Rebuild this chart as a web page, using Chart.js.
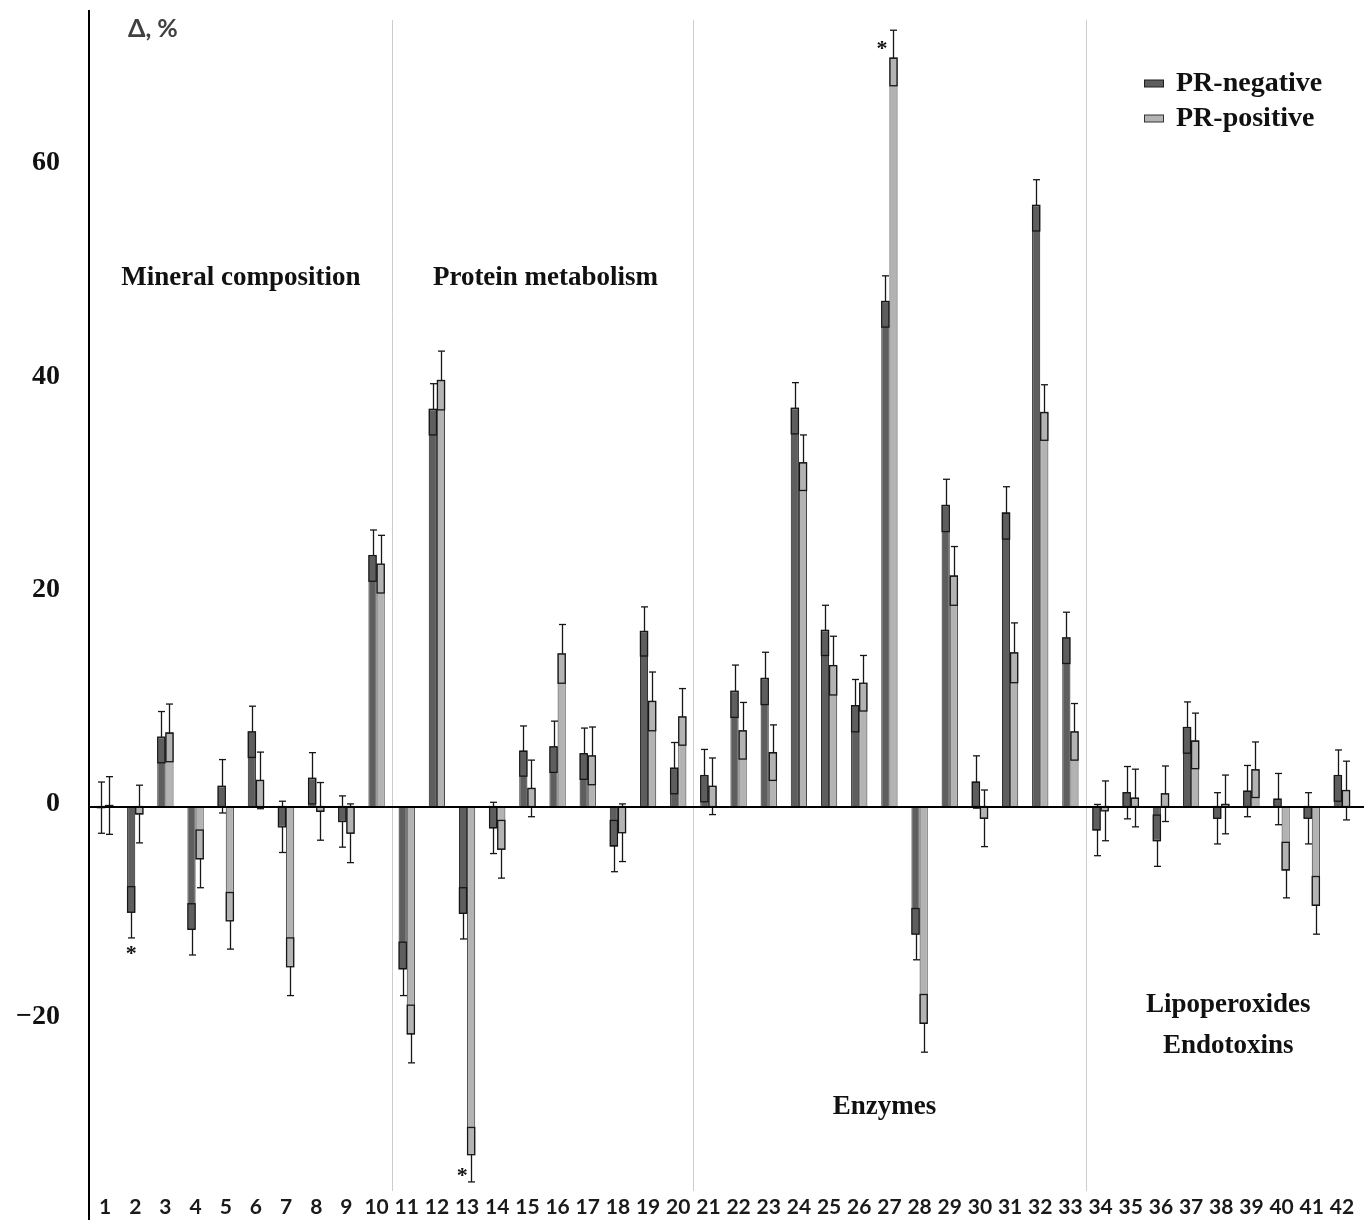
<!DOCTYPE html>
<html>
<head>
<meta charset="utf-8">
<script src="https://cdn.jsdelivr.net/npm/chart.js@4.4.0/dist/chart.umd.min.js"></script>
<style>
  html, body { margin: 0; padding: 0; background: #fff; }
  canvas { display: block; }
</style>
</head>
<body>
<canvas id="c" width="1364" height="1220"></canvas>
<script>
// Indicator numbers along the x axis
const categories = ['1','2','3','4','5','6','7','8','9','10',
  '11','12','13','14','15','16','17','18','19','20',
  '21','22','23','24','25','26','27','28','29','30','31','32','33',
  '34','35','36','37','38','39','40','41','42'];

// Change, % — PR-negative group
const prNegative = [-0.1, -9.9, 6.5, -11.5, 1.9, 7.0, -1.9, 2.65, -1.4, 23.5,
  -15.2, 37.2, -10.0, -2.0, 5.2, 5.6, 4.95, -3.7, 16.4, 3.6,
  2.9, 10.8, 12.0, 37.3, 16.5, 9.45, 47.3, -11.95, 28.2, 2.3, 27.5, 56.3, 15.8,
  -2.2, 1.3, -3.2, 7.4, -1.1, 1.45, 0.7, -1.1, 2.9];
const prNegativeErr = [2.4, 2.4, 2.4, 2.4, 2.5, 2.4, 2.4, 2.4, 2.4, 2.4,
  2.5, 2.4, 2.4, 2.4, 2.35, 2.4, 2.4, 2.4, 2.3, 2.4,
  2.45, 2.45, 2.45, 2.4, 2.35, 2.45, 2.4, 2.4, 2.45, 2.45, 2.45, 2.4, 2.4,
  2.4, 2.45, 2.4, 2.4, 2.4, 2.4, 2.4, 2.4, 2.4];

// Change, % — PR-positive group
const prPositive = [0.1, -0.7, 6.9, -4.9, -10.7, 2.45, -15.0, -0.45, -2.5, 22.7,
  -21.3, 39.9, -32.6, -4.0, 1.7, 14.3, 4.75, -2.45, 9.85, 8.4,
  1.9, 7.1, 5.05, 32.2, 13.2, 11.55, 70.1, -20.3, 21.6, -1.1, 14.4, 36.9, 7.0,
  -0.4, 0.8, 1.2, 6.15, 0.2, 3.45, -5.95, -9.25, 1.5];
const prPositiveErr = [2.7, 2.7, 2.7, 2.7, 2.65, 2.65, 2.7, 2.7, 2.75, 2.7,
  2.7, 2.75, 2.55, 2.7, 2.65, 2.75, 2.7, 2.7, 2.75, 2.65,
  2.65, 2.65, 2.6, 2.6, 2.75, 2.6, 2.6, 2.7, 2.75, 2.65, 2.8, 2.6, 2.65,
  2.8, 2.7, 2.6, 2.6, 2.75, 2.6, 2.6, 2.7, 2.75];

// Y axis tick values
const yTicks = [-20, 0, 20, 40, 60];

// Indicator groups: first and last indicator number, caption lines
const groupBounds = [[1, 10], [11, 20], [21, 33], [34, 42]];
const groupNames = [['Mineral composition'], ['Protein metabolism'], ['Enzymes'], ['Lipoperoxides', 'Endotoxins']];

// Significant differences: indicator number, series index
const significant = [[2, 0], [13, 1], [27, 1]];

const SERIF = '"Liberation Serif", "Times New Roman", serif';
const SANS = 'Lato, "Open Sans", sans-serif';

function seg(ctx, x1, y1, x2, y2) {
  ctx.beginPath(); ctx.moveTo(x1, y1); ctx.lineTo(x2, y2); ctx.stroke();
}

const decor = {
  id: 'decor',
  beforeDatasetsDraw(chart) {
    const { ctx, chartArea: a, scales: { x } } = chart;
    ctx.save();
    ctx.strokeStyle = '#cccccc';
    ctx.lineWidth = 1;
    groupBounds.slice(0, -1).forEach(([, last]) => {
      const px = Math.round((x.getPixelForValue(last - 1) + x.getPixelForValue(last)) / 2) + 0.5;
      seg(ctx, px, a.top + 9, px, a.bottom);
    });
    ctx.restore();
  },
  afterDatasetsDraw(chart) {
    const { ctx, chartArea: a, scales: { y } } = chart;
    ctx.save();
    // error bars
    chart.data.datasets.forEach((ds, di) => {
      const meta = chart.getDatasetMeta(di);
      meta.data.forEach((bar, i) => {
        const v = ds.data[i], e = ds.errors[i];
        const s = v >= 0 ? 1 : -1;
        const cx = Math.round(bar.x) + 0.5;
        const left = bar.x - bar.width / 2;
        const capW = 7;
        const outer = y.getPixelForValue(v + s * e);
        const inner = y.getPixelForValue(v - s * e);
        const top = bar.y, base = bar.base;
        ctx.strokeStyle = '#161616';
        ctx.lineWidth = 1.3;
        seg(ctx, cx, top, cx, outer);
        seg(ctx, cx - capW / 2, outer, cx + capW / 2, outer);
        const inside = (inner - top) * (base - inner) >= 0;
        if (inside) {
          ctx.strokeRect(left + 0.5, Math.min(top, inner), bar.width - 1, Math.abs(inner - top));
        } else {
          ctx.strokeRect(left + 0.5, Math.min(top, base), bar.width - 1, Math.abs(base - top));
          seg(ctx, cx, base, cx, inner);
          seg(ctx, cx - capW / 2, inner, cx + capW / 2, inner);
        }
      });
    });
    // zero line
    const zy = Math.round(y.getPixelForValue(0));
    ctx.strokeStyle = '#000';
    ctx.lineWidth = 2;
    seg(ctx, a.left - 1, zy, chart.width, zy);
    // y axis line
    seg(ctx, a.left - 1, a.top - 1, a.left - 1, chart.height);
    ctx.restore();
  },
  afterDraw(chart) {
    const { ctx, chartArea: a, scales: { x, y } } = chart;
    ctx.save();
    // axis title
    ctx.fillStyle = '#404040';
    ctx.font = 'bold 25px ' + SANS;
    ctx.textAlign = 'left';
    ctx.textBaseline = 'middle';
    ctx.fillText('Δ, %', 128, 29);

    // group captions
    ctx.fillStyle = '#111';
    ctx.font = 'bold 27px ' + SERIF;
    ctx.textAlign = 'center';
    const capY = [[278], [278], [1107], [1005, 1046]];
    const capDx = [0, 3, -5, 7];
    groupBounds.forEach(([first, last], gi) => {
      const cx = (x.getPixelForValue(first - 1) + x.getPixelForValue(last - 1)) / 2 + capDx[gi];
      groupNames[gi].forEach((t, li) => ctx.fillText(t, cx, capY[gi][li]));
    });

    // significance marks
    ctx.font = 'bold 22px ' + SERIF;
    const starOffsets = [[0, 16], [-9, -6], [-11.5, 19]];
    significant.forEach(([cat, si], k) => {
      const ds = chart.data.datasets[si];
      const bar = chart.getDatasetMeta(si).data[cat - 1];
      const v = ds.data[cat - 1], e = ds.errors[cat - 1];
      const capPx = y.getPixelForValue(v + (v >= 0 ? e : -e));
      ctx.fillText('*', bar.x + starOffsets[k][0], capPx + starOffsets[k][1]);
    });

    // legend
    ctx.textAlign = 'left';
    ctx.font = 'bold 28px ' + SERIF;
    chart.data.datasets.forEach((ds, di) => {
      const ly = 83.5 + di * 35;
      ctx.fillStyle = ds.backgroundColor;
      ctx.fillRect(1144, ly - 3.5, 20, 7);
      ctx.strokeStyle = ds.borderColor;
      ctx.lineWidth = 1;
      ctx.strokeRect(1144.5, ly - 3.5, 19, 7);
      ctx.fillStyle = '#111';
      ctx.fillText(ds.label, 1176, ly);
    });
    ctx.restore();
  }
};

new Chart(document.getElementById('c'), {
  type: 'bar',
  data: {
    labels: categories,
    datasets: [
      { label: 'PR-negative', data: prNegative, errors: prNegativeErr,
        backgroundColor: '#5e5e5e', borderColor: '#1e1e1e', borderWidth: 1 },
      { label: 'PR-positive', data: prPositive, errors: prPositiveErr,
        backgroundColor: '#b3b3b3', borderColor: '#333333', borderWidth: 1 }
    ]
  },
  options: {
    responsive: false,
    animation: false,
    devicePixelRatio: 1,
    layout: { padding: { top: 11, right: 7, left: 0, bottom: 0 } },
    datasets: { bar: { categoryPercentage: 0.54, barPercentage: 1.0 } },
    plugins: { legend: { display: false }, tooltip: { enabled: false } },
    scales: {
      x: {
        grid: { display: false, drawTicks: false },
        border: { display: false },
        ticks: { color: '#1a1a1a', font: { family: SANS, size: 21, weight: 'bold' }, padding: 4, maxRotation: 0, autoSkip: false },
        afterFit(s) { s.height = 29; s.paddingLeft = 0; s.paddingRight = 0; }
      },
      y: {
        min: -36,
        max: 74.5,
        grid: { display: false, drawTicks: false },
        border: { display: false },
        afterBuildTicks(s) { s.ticks = yTicks.map(v => ({ value: v })); },
        afterFit(s) { s.width = 90; s.paddingTop = 0; s.paddingBottom = 0; },
        ticks: {
          color: '#111',
          padding: 30,
          labelOffset: -3,
          font: { family: SERIF, size: 28, weight: 'bold' },
          callback: v => (v < 0 ? '\u2212' + Math.abs(v) : String(v))
        }
      }
    }
  },
  plugins: [decor]
});
</script>
</body>
</html>
